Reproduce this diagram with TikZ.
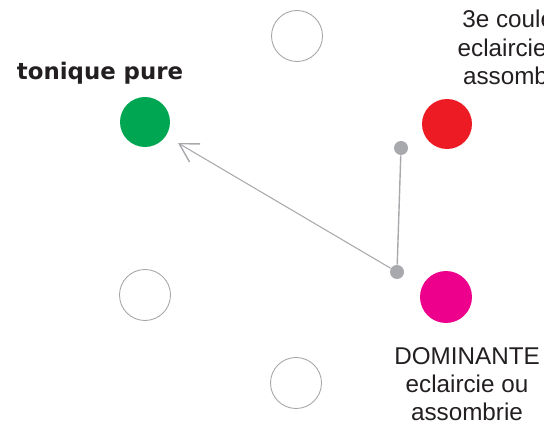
\documentclass[tikz,border=0pt]{standalone}
\usepackage{fontspec}
\setmainfont{Liberation Sans}
\newfontfamily\heavyfont{DejaVu Sans}
\usetikzlibrary{arrows.meta}
\definecolor{tgreen}{HTML}{00A651}
\definecolor{tred}{HTML}{ED1C24}
\definecolor{tmagenta}{HTML}{EC008C}
\definecolor{tdot}{HTML}{A7A9AC}
\definecolor{ttext}{HTML}{231F20}
\tikzset{
  hue/.style={circle, minimum size=1cm, inner sep=0pt},
  emptyhue/.style={hue, draw=gray!70, line width=0.5pt, minimum size=1.02cm},
  pin dot/.style={circle, fill=tdot, minimum size=0.28cm, inner sep=0pt},
  label text/.style={align=center, text=ttext, font=\fontsize{13.8}{16}\selectfont, inner sep=0pt}
}
\begin{document}
\begin{tikzpicture}[x=0.02cm, y=-0.02cm]
\useasboundingbox (0,0) rectangle (544,425);
\clip (0,0) rectangle (544,425);
\node[emptyhue] (top) at (297,36) {};
\node[emptyhue] (left) at (145,295) {};
\node[emptyhue] (bottom) at (296,383) {};
\node[hue, fill=tgreen] (tonic) at (145,122) {};
\node[hue, fill=tred] (third) at (447,124) {};
\node[hue, fill=tmagenta, minimum size=1.04cm] (dominant) at (446,297) {};
\node[pin dot] (upper pin) at (401,148) {};
\node[pin dot] (lower pin) at (397,272) {};
\coordinate (arrow end) at (178,143);
\draw[tdot, line width=0.8pt] (upper pin) -- (lower pin);
\draw[tdot, line width=0.6pt, -{Straight Barb[angle=60:0.42cm, line width=0.8pt]}] (lower pin) -- (arrow end);
\node[text=ttext, font=\heavyfont\bfseries\fontsize{13}{15}\selectfont, inner sep=0pt] (tonic label) at (100,73) {tonique pure};
\node[label text, anchor=north] (third label) at (519,10) {3e couleur\\eclaircie ou\\assombrie};
\node[label text, anchor=north] (dominant label) at (467,347) {DOMINANTE\\eclaircie ou\\assombrie};
\end{tikzpicture}
\end{document}
